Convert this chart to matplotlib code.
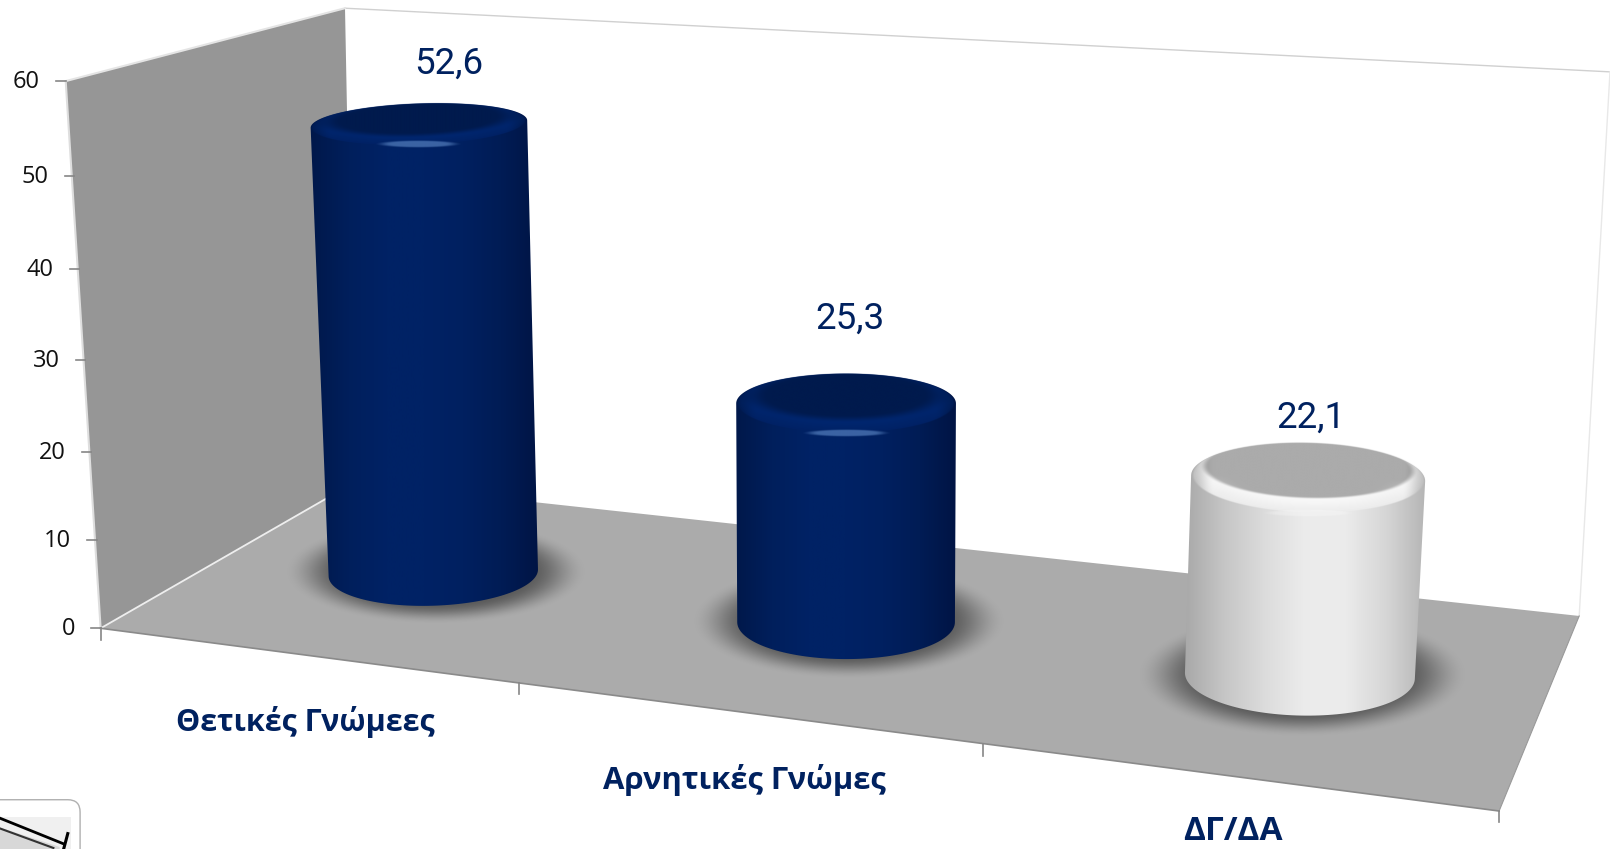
import numpy as np
import matplotlib
matplotlib.use("Agg")
import matplotlib.pyplot as plt
from matplotlib.patches import Polygon, PathPatch, FancyBboxPatch
from matplotlib.path import Path
from matplotlib.colors import LinearSegmentedColormap, to_rgb

categories = ["Θετικές Γνώμεες", "Αρνητικές Γνώμες", "ΔΓ/ΔΑ"]
values = [52.6, 25.3, 22.1]
value_labels = ["52,6", "25,3", "22,1"]
y_ticks = [0, 10, 20, 30, 40, 50, 60]

NAVY = "#00215f"
fig = plt.figure(figsize=(16.1, 8.49), dpi=100)
ax = fig.add_axes([0, 0, 1, 1])
ax.set_xlim(0, 1568)
ax.set_ylim(827, 0)
ax.axis("off")


def poly(pts, **kw):
    p = Polygon(pts, closed=True, **kw)
    ax.add_patch(p)
    return p


# walls and floor
poly([(336, 8), (1568, 70), (1538, 600), (345, 470)], fc="white", ec="none", zorder=1)
ax.plot([336, 1568], [8, 70], color="#d0d0d0", lw=1, zorder=1.2)
ax.plot([1568, 1538], [70, 600], color="#e8e8e8", lw=1, zorder=1.2)
poly([(64, 79), (336, 8), (345, 470), (98, 612)], fc="#969696", ec="none", zorder=1.5)
poly([(98, 612), (345, 470), (1538, 600), (1460, 790)], fc="#ababab", ec="none", zorder=1.6)
ax.plot([64, 336], [79, 8], color="#e4e4e4", lw=1.5, zorder=1.7)
ax.plot([64, 98], [79, 612], color="#dedede", lw=1.5, zorder=1.7)
ax.plot([98, 345], [612, 470], color="#eeeeee", lw=1.3, zorder=1.7)
ax.plot([98, 1460], [612, 790], color="#8a8a8a", lw=1.2, zorder=1.7)
ax.plot([1460, 1538], [790, 600], color="#999999", lw=0.8, zorder=1.7)

# y axis: ticks follow the slanted front edge of the left wall
tick_x = [98, 94, 89, 83, 77, 72, 64]
tick_y = [612, 526, 440, 351, 262, 171, 79]
for t, tx, ty in zip(y_ticks, tick_x, tick_y):
    ax.plot([tx - 9, tx], [ty, ty], color="#868686", lw=1.2, zorder=2)
    ax.text(tx - 25, ty + 1, str(t), ha="right", va="center", fontsize=17,
            family="Open Sans", color="#111111", zorder=3)

# x axis ticks
for (x0, y0) in [(98, 612), (505, 665), (957, 725), (1460, 790)]:
    ax.plot([x0, x0], [y0, y0 + 11], color="#868686", lw=1.2, zorder=2)

# cylinders: one geometry entry per bar, height comes from the value
base_cx = [422, 824, 1266]
base_cy = [558, 606, 658]
top_cx = [408, 824, 1274]
half_w_base = [102, 106, 112]
half_w_top = [105.5, 107, 114]
ry_base = [32, 36, 39]
ry_top = [20, 29, 34]
tilt = [-2, 0, 1.5]
px_per_unit = [8.31, 8.42, 8.69]
side_maps = [
    ["#00184a", "#001f5c", "#002265", "#002265", "#002060", "#001c55", "#001444"],
    ["#00184a", "#001f5c", "#002265", "#002265", "#002060", "#001c55", "#001444"],
    ["#a8a8a8", "#c6c6c6", "#dcdcdc", "#ececec", "#ebebeb", "#d6d6d6", "#b4b4b4"],
]
cap_colors = ["#001a4d", "#001a4d", "#ababab"]
rim_colors = ["#00266f", "#00266f", "#f8f8f8"]
cap_edges = [(0.72, 1.02), (0.72, 1.02), (0.88, 0.96)]
hl_colors = ["#6d9ad8", "#6d9ad8", "#ffffff"]
hl_strength = [0.55, 0.55, 0.3]
label_dx = [29, 4, 3]
label_gap = [59, 83, 59]


def ell_pts(cx, cy, rx, ry_, ang, a0, a1, n=80):
    t = np.radians(np.linspace(a0, a1, n))
    x, y = rx * np.cos(t), ry_ * np.sin(t)
    a = np.radians(ang)
    return np.c_[cx + x * np.cos(a) - y * np.sin(a), cy + x * np.sin(a) + y * np.cos(a)]


def smooth(a, b, x):
    t = np.clip((x - a) / (b - a), 0, 1)
    return t * t * (3 - 2 * t)


def blob(cx, cy, rx, ry_, zorder, color=(0.28, 0.28, 0.28), strength=0.8):
    xx = np.linspace(-1.4, 1.4, 280)
    X, Y = np.meshgrid(xx, xx)
    R = np.hypot(X, Y)
    A = smooth(1.38, 0.85, R) * strength
    img = np.zeros(X.shape + (4,))
    img[..., :3] = color
    img[..., 3] = A
    ax.imshow(img, extent=[cx - 1.4 * rx, cx + 1.4 * rx, cy + 1.4 * ry_, cy - 1.4 * ry_],
              aspect="auto", zorder=zorder, interpolation="bilinear")


def top_face(i, cx, cy, rx, ry_, ang, z):
    """Rounded top of a cylinder: dark cap that melts into a lighter rim."""
    n = 500
    xs = np.linspace(cx - rx - 4, cx + rx + 4, n)
    ys = np.linspace(cy - ry_ - 4, cy + ry_ + 4, n)
    X, Y = np.meshgrid(xs, ys)
    a = np.radians(ang)
    U = (X - cx) * np.cos(a) + (Y - cy) * np.sin(a)
    V = -(X - cx) * np.sin(a) + (Y - cy) * np.cos(a)
    d = np.hypot(U / rx, V / ry_)
    # the cap sits towards the back of the face
    off = 0.26
    d2 = np.hypot(U / (rx * 0.97), (V / ry_ + off) / (1 - off * 0.35))
    e0, e1 = cap_edges[i]
    t = smooth(e0, e1, d2)[..., None]
    cap = np.array(to_rgb(cap_colors[i]))
    rim = np.array(to_rgb(rim_colors[i]))
    rgb = cap + t * (rim - cap)
    # outer boundary, and the front of the rim fading into the side
    alpha = smooth(1.0, 0.97, d)
    front = np.clip(V / ry_, 0, 1)
    side_mid = np.array(to_rgb(side_maps[i][3]))
    fade = (smooth(0.6, 1.0, d) * (front > 0))[..., None] * np.clip(front * 2, 0, 1)[..., None]
    rgb = rgb + fade * (side_mid - rgb) * 0.9
    # rounded shoulders are slightly darker at the far left and right
    edge = smooth(0.8, 1.0, np.abs(U) / rx)[..., None]
    rgb = rgb * (1 - 0.22 * edge)
    img = np.dstack([np.clip(rgb, 0, 1), alpha])
    ax.imshow(img, extent=[xs[0], xs[-1], ys[-1], ys[0]], aspect="auto",
              zorder=z, interpolation="bilinear")


for i, v in enumerate(values):
    h = v * px_per_unit[i]
    bx, by = base_cx[i], base_cy[i]
    tx, ty = top_cx[i], by - h
    rb, rt = half_w_base[i], half_w_top[i]
    rbot, rtop = ry_base[i], ry_top[i]
    z = 4 + i

    blob(bx + 2, by - 1, rb + 5, rbot + 5, z)

    bottom = ell_pts(bx, by, rb, rbot, tilt[i], 0, 180)
    top = ell_pts(tx, ty, rt, rtop, tilt[i], 180, 360)
    verts = np.vstack([bottom, top, bottom[:1]])
    codes = [Path.MOVETO] + [Path.LINETO] * (len(verts) - 2) + [Path.CLOSEPOLY]
    clip = PathPatch(Path(verts, codes), fc="none", ec="none", transform=ax.transData)
    ax.add_patch(clip)

    cmap = LinearSegmentedColormap.from_list("side", side_maps[i])
    grad = np.linspace(0, 1, 256)[None, :]
    x0 = min(bx - rb, tx - rt) - 1
    x1 = max(bx + rb, tx + rt) + 1
    im = ax.imshow(grad, cmap=cmap, extent=[x0, x1, by + rbot + 2, ty - rtop - 2],
                   aspect="auto", zorder=z + 0.1)
    im.set_clip_path(clip)

    top_face(i, tx, ty, rt, rtop, tilt[i], z + 0.2)
    blob(tx, ty + rtop, rt * 0.3, 2.6, z + 0.4, color=to_rgb(hl_colors[i]), strength=hl_strength[i])

    ax.text(tx + label_dx[i], ty - label_gap[i], value_labels[i], ha="center", va="center",
            fontsize=26.5, family="Roboto", color=NAVY, zorder=10)

# category labels
label_xy = [(297, 703), (725, 760), (1201, 810)]
label_size = [22, 22.3, 24]
for (lx, ly), fs, name in zip(label_xy, label_size, categories):
    ax.text(lx, ly, name, ha="center", va="center", fontsize=fs, fontweight="bold",
            family="Open Sans", color=NAVY, zorder=10)

# small logo at the lower left
box = FancyBboxPatch((-20, 779), 98, 70, boxstyle="round,pad=0,rounding_size=12",
                     fc="white", ec="#b0b0b0", lw=1, zorder=3)
ax.add_patch(box)
poly([(0, 796), (69, 796), (69, 827), (0, 827)], fc="#f0f0f0", ec="none", zorder=3.1)
poly([(0, 806), (58, 825), (58, 827), (0, 827)], fc="#d8d8d8", ec="none", zorder=3.15)
ax.plot([0, 62], [797, 822], color="black", lw=2, zorder=3.2)
ax.plot([0, 52], [807, 826], color="#333333", lw=1.5, zorder=3.2)
ax.plot([62, 66], [827, 812], color="black", lw=2.2, zorder=3.2)

fig.savefig("out.png", dpi=100)
